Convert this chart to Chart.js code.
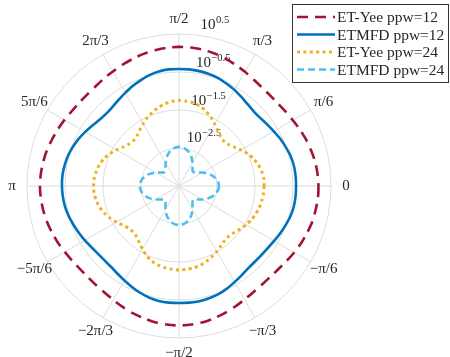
<!DOCTYPE html>
<html>
<head>
<meta charset="utf-8">
<script src="https://cdn.jsdelivr.net/npm/chart.js@4.4.1/dist/chart.umd.min.js"></script>
<style>
  html, body { margin: 0; padding: 0; background: #fff; }
  #wrap { width: 450px; height: 357px; position: relative; }
</style>
</head>
<body>
<div id="wrap"><canvas id="polar"></canvas></div>
<script>
// Polar error plot, radius is log10(error), sampled every 5 deg clockwise from 0
const angleDeg = [
  0, -5, -10, -15, -20, -25, -30, -35, -40, -45, -50, -55, -60, -65, -70, -75, -80, -85,
  -90, -95, -100, -105, -110, -115, -120, -125, -130, -135, -140, -145, -150, -155, -160, -165, -170, -175,
  180, 175, 170, 165, 160, 155, 150, 145, 140, 135, 130, 125, 120, 115, 110, 105, 100, 95,
  90, 85, 80, 75, 70, 65, 60, 55, 50, 45, 40, 35, 30, 25, 20, 15, 10, 5
];

// one label every 30 deg (every 6th sample)
const angleTickLabels = ['0', '−π/6', '−π/3', '−π/2', '−2π/3', '−5π/6', 'π', '5π/6', '2π/3', 'π/2', 'π/3', 'π/6'];

const radialTicks = [-2.5, -1.5, -0.5, 0.5];
const radialTickExp = ['−2.5', '−1.5', '−0.5', '0.5'];

const etYee12 = [
  0.17, 0.17, 0.15, 0.13, 0.09, 0.05, 0.00, -0.05, -0.09, -0.11, -0.11, -0.09, -0.05, 0.00, 0.05, 0.10, 0.14, 0.16,
  0.17, 0.16, 0.14, 0.10, 0.06, 0.01, -0.04, -0.08, -0.10, -0.11, -0.10, -0.07, -0.03, 0.02, 0.06, 0.10, 0.13, 0.15,
  0.16, 0.15, 0.13, 0.10, 0.06, 0.02, -0.02, -0.06, -0.08, -0.09, -0.08, -0.05, -0.02, 0.02, 0.06, 0.10, 0.13, 0.15,
  0.16, 0.16, 0.14, 0.11, 0.07, 0.02, -0.03, -0.08, -0.11, -0.12, -0.11, -0.08, -0.04, 0.01, 0.06, 0.10, 0.14, 0.16
];
const etmfd12 = [
  -0.42, -0.42, -0.43, -0.46, -0.51, -0.56, -0.61, -0.65, -0.67, -0.68, -0.67, -0.63, -0.58, -0.52, -0.47, -0.44, -0.42, -0.42,
  -0.42, -0.42, -0.43, -0.46, -0.51, -0.57, -0.63, -0.68, -0.72, -0.73, -0.72, -0.69, -0.64, -0.59, -0.54, -0.49, -0.45, -0.43,
  -0.42, -0.42, -0.44, -0.47, -0.52, -0.58, -0.65, -0.72, -0.78, -0.80, -0.78, -0.73, -0.67, -0.60, -0.54, -0.48, -0.44, -0.42,
  -0.42, -0.42, -0.43, -0.45, -0.48, -0.53, -0.58, -0.64, -0.69, -0.72, -0.71, -0.67, -0.62, -0.56, -0.51, -0.46, -0.43, -0.42
];
const etYee24 = [
  -1.26, -1.27, -1.29, -1.31, -1.35, -1.40, -1.46, -1.53, -1.60, -1.64, -1.63, -1.58, -1.51, -1.45, -1.39, -1.34, -1.31, -1.30,
  -1.29, -1.30, -1.32, -1.35, -1.40, -1.48, -1.58, -1.68, -1.76, -1.79, -1.77, -1.70, -1.60, -1.50, -1.41, -1.34, -1.29, -1.26,
  -1.25, -1.26, -1.29, -1.33, -1.40, -1.49, -1.60, -1.71, -1.78, -1.81, -1.78, -1.70, -1.61, -1.52, -1.44, -1.37, -1.31, -1.27,
  -1.25, -1.26, -1.28, -1.33, -1.41, -1.51, -1.62, -1.72, -1.80, -1.83, -1.80, -1.72, -1.61, -1.50, -1.41, -1.34, -1.29, -1.26
];
const etmfd24 = [
  -2.45, -2.46, -2.50, -2.55, -2.62, -2.70, -2.79, -2.88, -2.95, -2.97, -2.95, -2.88, -2.79, -2.70, -2.62, -2.56, -2.51, -2.48,
  -2.47, -2.48, -2.51, -2.56, -2.62, -2.70, -2.79, -2.88, -2.95, -2.97, -2.95, -2.88, -2.79, -2.70, -2.62, -2.56, -2.51, -2.48,
  -2.47, -2.48, -2.51, -2.56, -2.63, -2.71, -2.80, -2.88, -2.95, -2.97, -2.95, -2.88, -2.80, -2.71, -2.63, -2.56, -2.51, -2.48,
  -2.47, -2.48, -2.51, -2.56, -2.62, -2.70, -2.79, -2.88, -2.95, -2.97, -2.95, -2.88, -2.79, -2.70, -2.62, -2.55, -2.50, -2.46
];

const serif = '"Liberation Serif", "DejaVu Serif", serif';
const textColor = '#262626';

// tick texts and legend box, placed from the radial scale
const polarText = {
  id: 'polarText',
  beforeDatasetsDraw(chart) {
    const r = chart.scales.r;
    const ctx = chart.ctx;
    ctx.save();
    ctx.fillStyle = textColor;
    ctx.textAlign = 'left';
    ctx.textBaseline = 'alphabetic';
    const a = 83 * Math.PI / 180;
    radialTicks.forEach((v, k) => {
      const d = r.getDistanceFromCenterForValue(v);
      const x = r.xCenter + Math.cos(a) * d + 3;
      const y = r.yCenter - Math.sin(a) * d - 6;
      ctx.font = '15px ' + serif;
      ctx.fillText('10', x, y);
      const w = ctx.measureText('10').width;
      ctx.font = '10.5px ' + serif;
      ctx.fillText(radialTickExp[k], x + w + 0.5, y - 6);
    });
    ctx.font = '15px ' + serif;
    ctx.textAlign = 'center';
    ctx.textBaseline = 'middle';
    angleTickLabels.forEach((t, k) => {
      const p = r.getPointPosition(k * 6, r.drawingArea + 15);
      ctx.fillText(t, p.x, p.y);
    });
    ctx.restore();
  },
  afterDraw(chart) {
    const ctx = chart.ctx;
    const box = { x: 292.5, y: 4.5, w: 156, h: 78 };
    ctx.save();
    ctx.fillStyle = '#fff';
    ctx.fillRect(box.x, box.y, box.w, box.h);
    ctx.strokeStyle = '#333';
    ctx.lineWidth = 1;
    ctx.strokeRect(box.x, box.y, box.w, box.h);
    ctx.font = '15.5px ' + serif;
    ctx.textAlign = 'left';
    ctx.textBaseline = 'middle';
    chart.data.datasets.forEach((ds, k) => {
      const y = 17 + k * 17.5;
      ctx.strokeStyle = ds.borderColor;
      ctx.lineWidth = ds.borderWidth;
      ctx.setLineDash(ds.borderDash || []);
      ctx.beginPath();
      ctx.moveTo(297, y);
      ctx.lineTo(335, y);
      ctx.stroke();
      ctx.setLineDash([]);
      ctx.fillStyle = textColor;
      ctx.fillText(ds.label, 337, y + 1);
    });
    ctx.restore();
  }
};

new Chart(document.getElementById('polar'), {
  type: 'radar',
  data: {
    labels: angleDeg,
    datasets: [
      { label: 'ET-Yee ppw=12', data: etYee12, borderColor: '#A2142F', borderWidth: 2.6, borderDash: [11, 7], tension: 0.25 },
      { label: 'ETMFD ppw=12', data: etmfd12, borderColor: '#0072BD', borderWidth: 2.6, tension: 0.2 },
      { label: 'ET-Yee ppw=24', data: etYee24, borderColor: '#EDB120', borderWidth: 3, borderDash: [3, 3.4], tension: 0.25 },
      { label: 'ETMFD ppw=24', data: etmfd24, borderColor: '#4DBEEE', borderWidth: 2.6, borderDash: [7, 4], tension: 0.15 }
    ]
  },
  options: {
    responsive: true,
    maintainAspectRatio: false,
    animation: false,
    layout: { padding: { left: 27, right: 119, top: 34, bottom: 19 } },
    elements: {
      point: { radius: 0, hoverRadius: 0 },
      line: { fill: false }
    },
    scales: {
      r: {
        startAngle: 90,
        min: -3.5,
        max: 0.5,
        ticks: { display: false, stepSize: 1 },
        grid: { circular: true, color: '#dcdcdc', lineWidth: 1 },
        angleLines: {
          color: '#dcdcdc',
          lineWidth: (c) => (c.index % 6 === 0 ? 1 : 0)
        },
        pointLabels: { display: false }
      }
    },
    plugins: {
      legend: { display: false },
      tooltip: { enabled: false }
    }
  },
  plugins: [polarText]
});
</script>
</body>
</html>
